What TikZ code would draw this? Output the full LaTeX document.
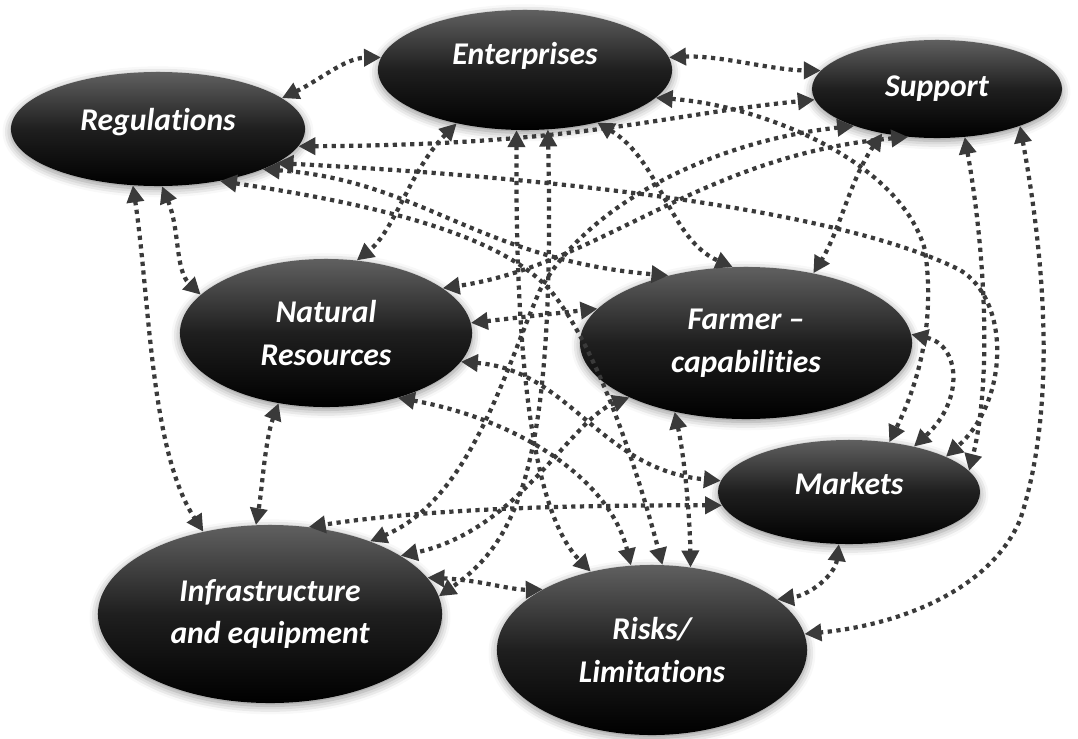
\documentclass[tikz,border=0pt]{standalone}
\usepackage{fontspec}
\setmainfont{Carlito}[Ligatures={TeX,NoCommon}]
\usetikzlibrary{arrows.meta, shapes.geometric, shadows.blur}
\definecolor{linkgray}{HTML}{3A3A3A}
\definecolor{topgray}{HTML}{606060}

\begin{document}
\begin{tikzpicture}[x=0.025cm, y=-0.025cm,
    topic/.style={ellipse, inner sep=0pt, align=center, text=white,
      top color=topgray, bottom color=black, middle color=black!88,
      blur shadow={shadow xshift=0pt, shadow yshift=-2pt,
                   shadow blur radius=6pt, shadow opacity=45},
      font=\fontsize{22.5}{30.5}\selectfont\bfseries\itshape},
    link/.style={linkgray, line width=3pt, dash pattern=on 3pt off 3.2pt,
      {Triangle[length=12pt,width=12pt]}-{Triangle[length=12pt,width=12pt]}}]
  \useasboundingbox (0,0) rectangle (1078,738);

  % topics
  \node[topic, minimum width=7.35cm, minimum height=2.85cm, text depth=13pt] (reg) at (158,129) {Regulations};
  \node[topic, minimum width=7.35cm, minimum height=3cm, text depth=23pt] (ent) at (525,70) {Enterprises};
  \node[topic, minimum width=6.25cm, minimum height=2.45cm] (sup) at (937,89) {Support};
  \node[topic, minimum width=7.3cm, minimum height=3.7cm] (nat) at (326,333) {Natural\\Resources};
  \node[topic, minimum width=8.3cm, minimum height=3.8cm] (farm) at (746,343) {Farmer –\\capabilities};
  \node[topic, minimum width=6.55cm, minimum height=2.6cm, text depth=12pt] (mkt) at (849,492) {Markets};
  \node[topic, minimum width=8.6cm, minimum height=4.45cm] (infra) at (270,614) {Infrastructure\\and equipment};
  \node[topic, minimum width=7.75cm, minimum height=4.25cm] (risk) at (652,650) {Risks/\\Limitations};

  % links from Regulations
  \draw[link] (reg.14) .. controls (320,80) and (345,58) .. (ent.175);
  \draw[link] (reg.-7) .. controls (580,145) and (660,115) .. (sup.185);
  \draw[link] (reg.-16) .. controls (600,180) and (850,215) .. (960,270)
                        .. controls (1010,300) and (1010,400) .. (mkt.20);
  \draw[link] (reg.-21) .. controls (420,180) and (480,260) .. (farm.139);
  \draw[link] (reg.-40) .. controls (380,205) and (500,235) .. (550,290)
                        .. controls (600,350) and (640,480) .. (risk.83);
  \draw[link] (reg.-114) .. controls (150,300) and (150,450) .. (infra.129);
  \draw[link] (reg.-86) .. controls (180,230) and (175,270) .. (nat.163);

  % links from Enterprises
  \draw[link] (ent.5) .. controls (720,55) and (770,70) .. (sup.171);
  \draw[link] (ent.-12) .. controls (760,105) and (900,160) .. (925,250)
                        .. controls (935,320) and (920,380) .. (mkt.51);
  \draw[link] (ent.-36) .. controls (660,160) and (670,240) .. (farm.100);
  \draw[link] (ent.-142) .. controls (410,170) and (395,230) .. (nat.67);
  \draw[link] (ent.-98) .. controls (515,400) and (540,520) .. (risk.128);
  \draw[link] (ent.-69) .. controls (555,460) and (520,540) .. (infra.6);

  % links from Support
  \draw[link] (sup.204) .. controls (720,140) and (590,200) .. (540,290)
                        .. controls (505,370) and (470,500) .. (infra.36);
  \draw[link] (sup.219) .. controls (850,180) and (840,230) .. (farm.46);
  \draw[link] (sup.239) .. controls (700,155) and (600,265) .. (nat.21);
  \draw[link] (sup.-60) .. controls (985,250) and (992,380) .. (mkt.10);
  \draw[link] (sup.-24) .. controls (1052,300) and (1050,430) .. (1020,520)
                        .. controls (990,590) and (900,625) .. (risk.6);

  % the rest
  \draw[link] (nat.4) -- (farm.167);
  \draw[link] (nat.-12) .. controls (570,370) and (600,470) .. (mkt.175);
  \draw[link] (nat.-42) .. controls (520,420) and (610,480) .. (risk.104);
  \draw[link] (nat.-124) .. controls (265,440) and (262,490) .. (infra.99);
  \draw[link] (farm.3) .. controls (960,345) and (965,400) .. (mkt.35);
  \draw[link] (farm.205) .. controls (570,420) and (520,530) .. (infra.24);
  \draw[link] (farm.224) .. controls (685,460) and (690,520) .. (risk.65);
  \draw[link] (mkt.186) .. controls (550,505) and (420,510) .. (infra.66);
  \draw[link] (mkt.-101) .. controls (835,575) and (810,595) .. (risk.22);
  \draw[link] (infra.13) .. controls (480,580) and (510,590) .. (risk.151);
\end{tikzpicture}
\end{document}
